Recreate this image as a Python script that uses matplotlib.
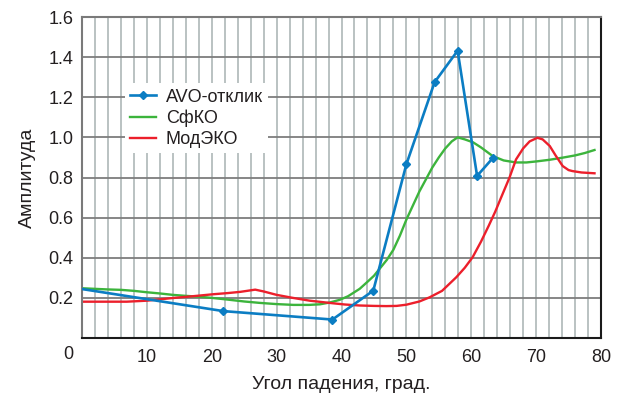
import matplotlib
matplotlib.use("Agg")
import matplotlib.pyplot as plt

plt.rcParams['font.family'] = ['Liberation Sans', 'DejaVu Sans']

# AVO response (points with markers)
avo_x = [0, 21.8, 38.6, 44.9, 50.0, 54.35, 57.9, 60.9, 63.3]
avo_y = [0.244, 0.134, 0.092, 0.236, 0.866, 1.275, 1.432, 0.808, 0.896]

# СфКО curve
sf_x = [0, 2, 4, 6, 8, 10, 12, 14, 16, 18, 20, 22.3, 25, 27.4, 30, 32.6, 35, 36.7,
        38.2, 39.7, 41, 42.8, 44, 45, 46, 47, 48, 49, 50, 51, 52, 53, 54, 55, 56,
        57, 57.9, 59, 60.3, 61.5, 63.3, 65, 66.9, 68.5, 70, 72, 74.1, 76, 77.5, 79]
sf_y = [0.248, 0.245, 0.242, 0.240, 0.235, 0.228, 0.222, 0.215, 0.210, 0.206, 0.200,
        0.192, 0.182, 0.175, 0.169, 0.165, 0.165, 0.168, 0.177, 0.190, 0.208, 0.245,
        0.280, 0.310, 0.350, 0.390, 0.440, 0.510, 0.590, 0.660, 0.730, 0.790, 0.850,
        0.900, 0.945, 0.980, 1.000, 0.990, 0.975, 0.950, 0.907, 0.885, 0.875, 0.875,
        0.880, 0.888, 0.899, 0.910, 0.922, 0.937]

# МодЭКО curve
mod_x = [0, 3, 6.9, 10, 13.6, 17, 20.2, 22.5, 24.4, 26.7, 28, 30, 32.5, 35.1, 38.7,
         40.5, 42.8, 45, 46.9, 48.5, 50, 52, 53.6, 55.5, 57.7, 59, 60.2, 61.5, 62.7,
         63.7, 64.6, 65.9, 66.9, 68, 69, 70.2, 71, 72.1, 73, 74.1, 75, 75.6, 77, 79]
mod_y = [0.181, 0.181, 0.181, 0.186, 0.198, 0.208, 0.218, 0.224, 0.230, 0.241, 0.232,
         0.215, 0.200, 0.186, 0.173, 0.167, 0.162, 0.160, 0.159, 0.160, 0.166, 0.182,
         0.203, 0.235, 0.303, 0.350, 0.402, 0.480, 0.560, 0.630, 0.700, 0.800, 0.890,
         0.945, 0.980, 0.998, 0.990, 0.957, 0.910, 0.857, 0.837, 0.832, 0.825, 0.821]

labels = ['AVO-отклик', 'СфКО', 'МодЭКО']
x_ticks = [0, 10, 20, 30, 40, 50, 60, 70, 80]
y_ticks = [0.2, 0.4, 0.6, 0.8, 1.0, 1.2, 1.4, 1.6]

blue = '#0b7dc3'
green = '#3cb43c'
red = '#ec1f2b'
txt = '#231f20'

fig = plt.figure(figsize=(6.24, 3.94), dpi=100)
ax = fig.add_axes([82/624, 1 - 338/394, (601-82)/624, (338-17)/394])

ax.set_xlim(0, 80)
ax.set_ylim(0, 1.6)

ax.set_xticks(x_ticks)
ax.set_yticks(y_ticks)
for xv in range(2, 80, 2):
    ax.axvline(xv, color='#b4bdbd', lw=1.3, zorder=0)
for yv in y_ticks[:-1]:
    ax.axhline(yv, color='#7d7d7d', lw=1.3, zorder=0.5)

ax.plot(avo_x, avo_y, color=blue, lw=1.9, marker='D', markersize=3.8,
        markevery=list(range(1, len(avo_x))), label=labels[0], zorder=3)
ax.plot(sf_x, sf_y, color=green, lw=1.7, label=labels[1], zorder=2)
ax.plot(mod_x, mod_y, color=red, lw=1.7, label=labels[2], zorder=2)

ax.tick_params(axis='both', which='both', length=0, labelsize=13, colors=txt)
ax.tick_params(axis='x', pad=8)
ax.tick_params(axis='y', pad=6)
ax.set_xticklabels([''] + [str(v) for v in x_ticks[1:]])
ax.set_yticklabels(['%.1f' % v for v in y_ticks])
ax.annotate('0', xy=(0, 0), xycoords='data', xytext=(-14, -8),
            textcoords='offset pixels', ha='center', va='top', fontsize=13, color=txt)

ax.set_xlabel('Угол падения, град.', fontsize=14, color=txt, labelpad=7)
ax.set_ylabel('Амплитуда', fontsize=14, color=txt, labelpad=9)

for s in ['left', 'top']:
    ax.spines[s].set_color('#7a7a7a')
    ax.spines[s].set_linewidth(1.5)
for s in ['right', 'bottom']:
    ax.spines[s].set_color('#1a1a1a')
    ax.spines[s].set_linewidth(1.5)

leg = ax.legend(loc='upper left', bbox_to_anchor=(0.083, 0.794), borderaxespad=0,
                frameon=True, fancybox=False, fontsize=13, handlelength=1.4,
                handletextpad=0.55, labelspacing=0.22, borderpad=0.3)
leg.get_frame().set_edgecolor('none')
leg.get_frame().set_facecolor('white')
leg.get_frame().set_alpha(1)
for t in leg.get_texts():
    t.set_color(txt)

fig.savefig('out.png', dpi=100)
